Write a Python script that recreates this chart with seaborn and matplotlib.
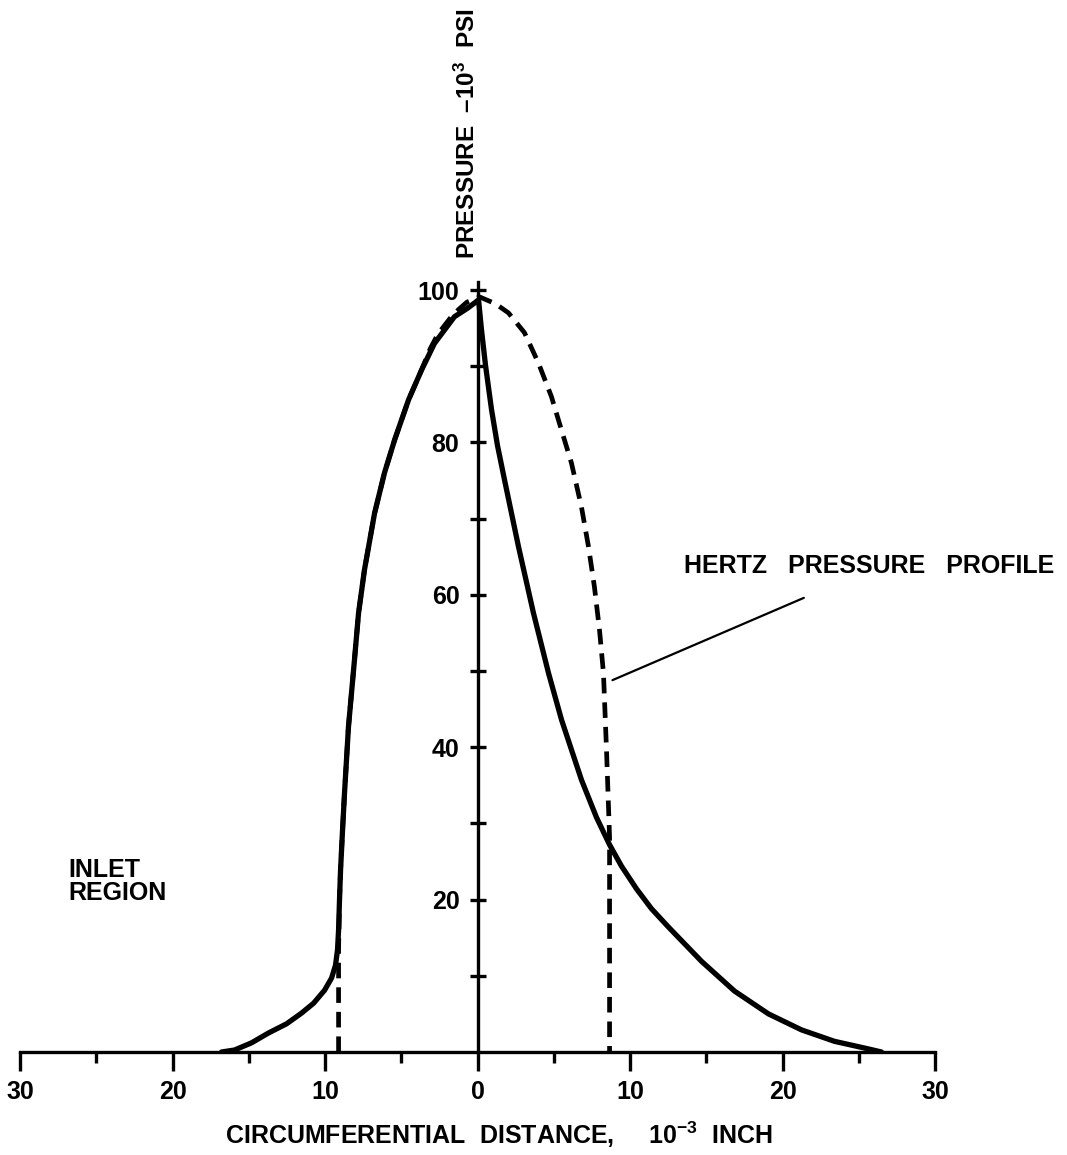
import matplotlib
matplotlib.use("Agg")
import matplotlib.pyplot as plt
from matplotlib.ticker import FixedLocator, FuncFormatter
import seaborn as sns

# ---- data (x in 1e-3 inch, pressure in 1e3 psi) ----
solid_x = [-16.79, -15.93, -14.82, -13.70, -12.52, -11.54, -10.75, -10.03, -9.57,
           -9.31, -9.18, -9.11, -9.05, -8.98, -8.85, -8.72, -8.46, -8.07, -7.80,
           -7.41, -6.75, -6.10, -5.44, -4.52, -3.67, -2.82, -1.51, -0.66, 0.07,
           0.26, 0.52, 0.92, 1.31, 1.77, 2.69, 3.67, 4.66, 5.51, 6.82, 7.80,
           8.66, 9.44, 10.43, 11.41, 12.52, 14.69, 16.85, 19.08, 21.25, 23.41,
           25.64, 26.49]
solid_y = [0.0, 0.26, 1.2, 2.5, 3.7, 5.1, 6.4, 8.1, 9.7,
           11.4, 13.4, 16.0, 19.9, 23.9, 29.1, 34.0, 42.7, 51.4, 57.6,
           63.3, 70.7, 76.0, 80.3, 85.6, 89.5, 93.0, 96.5, 97.6, 98.7,
           94.8, 90.2, 84.3, 79.6, 75.1, 66.3, 57.6, 49.7, 43.6, 35.7, 30.8,
           27.2, 24.4, 21.4, 18.8, 16.4, 11.9, 8.0, 5.0, 2.9, 1.4,
           0.4, 0.0]

hertz_x = [-9.11, -9.11, -9.05, -8.98, -8.85, -8.72, -8.46, -8.07, -7.80, -7.41,
           -6.75, -6.10, -5.44, -4.52, -3.67, -3.10, -2.60, -1.60, -0.70, 0.13,
           1.18, 2.03, 3.08, 4.00, 4.85, 5.51, 6.16, 6.82, 7.28, 7.67, 8.00,
           8.26, 8.46, 8.66, 8.66]
hertz_y = [0.0, 13.4, 19.9, 23.9, 29.1, 34.0, 42.7, 51.4, 57.6, 63.3,
           70.7, 76.0, 80.3, 85.6, 89.5, 92.3, 94.2, 96.8, 98.4, 99.1,
           98.2, 97.0, 94.4, 90.4, 86.0, 81.6, 77.3, 71.5, 66.3, 61.0, 55.4,
           49.7, 39.6, 28.2, 0.0]

x_major = [-30, -20, -10, 0, 10, 20, 30]
x_minor = [-25, -15, -5, 5, 15, 25]
y_major = [20, 40, 60, 80, 100]
y_minor = [10, 30, 50, 70, 90]

# ---- style ----
sns.set_theme(style="white")
plt.rcParams["font.family"] = ["Liberation Sans Narrow", "Liberation Sans", "DejaVu Sans"]
plt.rcParams["font.weight"] = "bold"
plt.rcParams["mathtext.fontset"] = "custom"
plt.rcParams["mathtext.rm"] = "Liberation Sans:bold"
plt.rcParams["mathtext.default"] = "rm"

W, H = 1067, 1155
fig = plt.figure(figsize=(W / 100, H / 100), dpi=100)
fig.patch.set_facecolor("white")
ax = fig.add_axes([20 / W, 103 / H, 915 / W, 769.6 / H])
ax.set_facecolor("white")

sns.lineplot(x=hertz_x, y=hertz_y, sort=False, estimator=None, color="black",
             lw=3.4, ax=ax)
ax.lines[-1].set_dashes((3.3, 1.9))
sns.lineplot(x=solid_x, y=solid_y, sort=False, estimator=None, color="black",
             lw=3.8, ax=ax)
ax.lines[-1].set_solid_joinstyle("round")

ax.set_xlim(-30, 30)
ax.set_ylim(0, 101)

for s in ["top", "right"]:
    ax.spines[s].set_visible(False)
ax.spines["left"].set_position(("data", 0))
for s in ["left", "bottom"]:
    ax.spines[s].set_color("black")
    ax.spines[s].set_linewidth(2.4)

ax.xaxis.set_major_locator(FixedLocator(x_major))
ax.xaxis.set_minor_locator(FixedLocator(x_minor))
ax.xaxis.set_major_formatter(FuncFormatter(lambda v, p: f"{abs(int(round(v)))}"))
ax.yaxis.set_major_locator(FixedLocator(y_major))
ax.yaxis.set_minor_locator(FixedLocator(y_minor))
ax.yaxis.set_major_formatter(FuncFormatter(lambda v, p: f"{int(round(v))}"))

ax.tick_params(axis="x", which="major", direction="out", length=14, width=2.4,
               color="black", pad=6, labelsize=18, labelcolor="black")
ax.tick_params(axis="x", which="minor", direction="out", length=8, width=2.4,
               color="black")
ax.tick_params(axis="y", which="both", direction="inout", length=11, width=2.4,
               color="black", pad=7.5, labelsize=18, labelcolor="black")
ax.tick_params(bottom=True, left=True, which="both")
ax.grid(False)
ax.set_xlabel("")
ax.set_ylabel("")

lab_font = dict(family=["Liberation Sans", "DejaVu Sans"], weight="bold",
                fontsize=18, color="black")
ylab_font = dict(family=["Liberation Sans", "DejaVu Sans"], weight="bold",
                 fontsize=17.5, color="black")

fig.text(499 / W, 1 - 1135 / H,
         "CIRCUMFERENTIAL  DISTANCE,     10$^{-3}$  INCH",
         ha="center", va="center", **lab_font)

fig.text(467 / W, 1 - 134 / H, "PRESSURE  –10$^{3}$  PSI",
         ha="center", va="center", rotation=90, **ylab_font)

ax.text(13.57, 63.8, "HERTZ   PRESSURE   PROFILE",
        ha="left", va="center", **lab_font)
ax.annotate("", xy=(8.85, 48.8), xytext=(21.4, 59.6),
            arrowprops=dict(arrowstyle="-", color="black", lw=1.6,
                            shrinkA=0, shrinkB=0))
ax.text(-26.8, 23.9, "INLET", ha="left", va="center", **lab_font)
ax.text(-26.8, 20.9, "REGION", ha="left", va="center", **lab_font)

fig.savefig("out.png", dpi=100, facecolor="white")
